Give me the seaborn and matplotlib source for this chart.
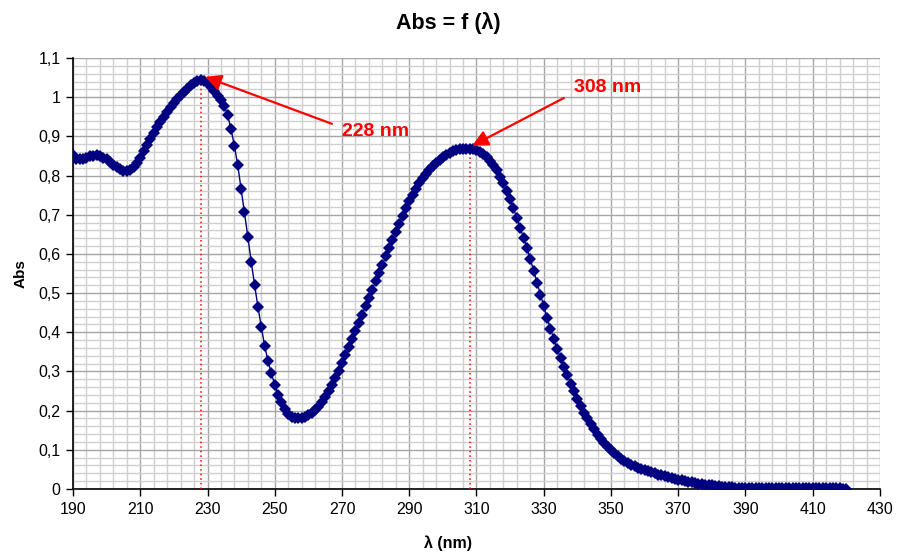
import matplotlib
matplotlib.use("Agg")
import matplotlib.pyplot as plt
from matplotlib.ticker import FixedLocator, MultipleLocator, FuncFormatter
import numpy as np
import pandas as pd
import seaborn as sns

# Absorbance spectrum, one reading per nanometre from 190 to 420 nm
wavelength_start = 190
absorbance = [
    0.852, 0.843, 0.842, 0.843, 0.846, 0.849, 0.851, 0.852, 0.850, 0.846,   # 190-199
    0.841, 0.835, 0.828, 0.821, 0.816, 0.812, 0.812, 0.815, 0.822, 0.833,   # 200-209
    0.846, 0.862, 0.878, 0.894, 0.909, 0.923, 0.937, 0.950, 0.962, 0.974,   # 210-219
    0.985, 0.996, 1.005, 1.014, 1.022, 1.030, 1.036, 1.041, 1.045, 1.042,   # 220-229
    1.035, 1.026, 1.016, 1.004, 0.994, 0.978, 0.954, 0.918, 0.876, 0.826,   # 230-239
    0.766, 0.707, 0.644, 0.580, 0.521, 0.465, 0.414, 0.365, 0.327, 0.295,   # 240-249
    0.266, 0.241, 0.222, 0.204, 0.192, 0.185, 0.181, 0.180, 0.180, 0.183,   # 250-259
    0.188, 0.194, 0.201, 0.210, 0.222, 0.235, 0.250, 0.266, 0.284, 0.302,   # 260-269
    0.321, 0.341, 0.362, 0.383, 0.404, 0.424, 0.445, 0.466, 0.488, 0.509,   # 270-279
    0.530, 0.551, 0.572, 0.594, 0.615, 0.635, 0.656, 0.676, 0.696, 0.716,   # 280-289
    0.734, 0.751, 0.766, 0.780, 0.793, 0.804, 0.815, 0.825, 0.833, 0.840,   # 290-299
    0.847, 0.853, 0.858, 0.862, 0.865, 0.867, 0.868, 0.869, 0.869, 0.868,   # 300-309
    0.865, 0.861, 0.855, 0.847, 0.838, 0.826, 0.813, 0.797, 0.780, 0.760,   # 310-319
    0.739, 0.716, 0.692, 0.667, 0.641, 0.615, 0.587, 0.557, 0.526, 0.496,   # 320-329
    0.466, 0.437, 0.409, 0.383, 0.358, 0.334, 0.311, 0.290, 0.269, 0.250,   # 330-339
    0.230, 0.211, 0.195, 0.180, 0.165, 0.152, 0.139, 0.127, 0.117, 0.107,   # 340-349
    0.099, 0.091, 0.084, 0.077, 0.072, 0.067, 0.062, 0.058, 0.054, 0.051,   # 350-359
    0.048, 0.045, 0.043, 0.040, 0.037, 0.035, 0.033, 0.030, 0.028, 0.026,   # 360-369
    0.024, 0.022, 0.020, 0.019, 0.017, 0.015, 0.014, 0.012, 0.011, 0.010,   # 370-379
    0.009, 0.008, 0.007, 0.006, 0.005, 0.004, 0.004, 0.003, 0.003, 0.002,   # 380-389
    0.002, 0.002, 0.002, 0.002, 0.002, 0.002, 0.002, 0.002, 0.002, 0.002,   # 390-399
    0.002, 0.002, 0.002, 0.002, 0.002, 0.002, 0.002, 0.002, 0.002, 0.002,   # 400-409
    0.002, 0.002, 0.002, 0.002, 0.002, 0.002, 0.002, 0.002, 0.002, 0.001,   # 410-419
    0.000,                                                                  # 420
]
wavelength = list(range(wavelength_start, wavelength_start + len(absorbance)))

# Axis ticks
x_ticks = [190, 210, 230, 250, 270, 290, 310, 330, 350, 370, 390, 410, 430]
y_ticks = [0.0, 0.1, 0.2, 0.3, 0.4, 0.5, 0.6, 0.7, 0.8, 0.9, 1.0, 1.1]

# Absorption maxima marked on the curve
peak_labels = ["228 nm", "308 nm"]
peak_wavelengths = [228, 308]
peak_values = [absorbance[w - wavelength_start] for w in peak_wavelengths]

df = pd.DataFrame({"wavelength": wavelength, "absorbance": absorbance})

sns.set_style("white")
plt.rcParams["font.family"] = ["Liberation Sans", "DejaVu Sans"]
plt.rcParams["text.color"] = "black"
plt.rcParams["axes.labelcolor"] = "black"

fig = plt.figure(figsize=(8.97, 5.54), dpi=100)
ax = fig.add_axes([73 / 897, 1 - 489 / 554, (880 - 73) / 897, (489 - 58) / 554])

navy = "#000080"
sns.lineplot(data=df, x="wavelength", y="absorbance", ax=ax, color=navy,
             linewidth=1.0, marker="D", markersize=6, markeredgewidth=0,
             zorder=5)

ax.set_xlim(190, 430)
ax.set_ylim(0, 1.1)
ax.xaxis.set_major_locator(FixedLocator(x_ticks))
ax.xaxis.set_minor_locator(FixedLocator(list(range(190, 431, 4))))
ax.yaxis.set_major_locator(FixedLocator(y_ticks))
ax.yaxis.set_minor_locator(MultipleLocator(0.02))

def comma_fmt(v, pos):
    s = f"{v:.1f}".rstrip("0").rstrip(".")
    return s.replace(".", ",")

ax.yaxis.set_major_formatter(FuncFormatter(comma_fmt))

ax.grid(which="major", color="#a6a6a6", linewidth=1.0, zorder=0)
ax.grid(which="minor", color="#cfcfcf", linewidth=1.0, zorder=0)
ax.set_axisbelow(True)

for side in ["top", "right"]:
    ax.spines[side].set_visible(False)
for side in ["left", "bottom"]:
    ax.spines[side].set_color("black")
    ax.spines[side].set_linewidth(1.2)

ax.tick_params(which="major", direction="out", length=5, width=1, color="black",
               labelsize=11.5, labelcolor="black", bottom=True, left=True, pad=4)
ax.tick_params(which="minor", length=0)

ax.set_xlabel("")
ax.set_ylabel("Abs", fontsize=11, fontweight="bold", labelpad=8, color="black")

# Chart title and x-axis title, centred on the whole figure
fig.text(448 / 897, 1 - 23 / 554, "Abs = f (λ)", fontsize=15.5, fontweight="bold",
         ha="center", va="center", color="black")
fig.text(448 / 897, 1 - 543 / 554, "λ (nm)", fontsize=11.5, fontweight="bold",
         ha="center", va="center", color="black")

# Dotted drop lines from each maximum to the baseline
for w, v in zip(peak_wavelengths, peak_values):
    ax.plot([w, w], [0, v], color="red", linestyle=(0, (1, 2)), linewidth=1.1,
            zorder=4)

# Labels with arrows pointing at the maxima
label_pos = [(280.0, 0.913), (349.0, 1.025)]
arrow_tail = [(267.0, 0.932), (336.0, 0.998)]
arrow_tip = [(229.3, 1.052), (308.7, 0.876)]
for text, lp, tail, tip in zip(peak_labels, label_pos, arrow_tail, arrow_tip):
    ax.text(lp[0], lp[1], text, color="red", fontsize=14, fontweight="bold",
            ha="center", va="center", zorder=7)
    ax.annotate("", xy=tip, xytext=tail,
                arrowprops=dict(arrowstyle="-|>", color="red", lw=1.6,
                                mutation_scale=24, shrinkA=0, shrinkB=0),
                zorder=8)

fig.savefig("out.png", dpi=100)
